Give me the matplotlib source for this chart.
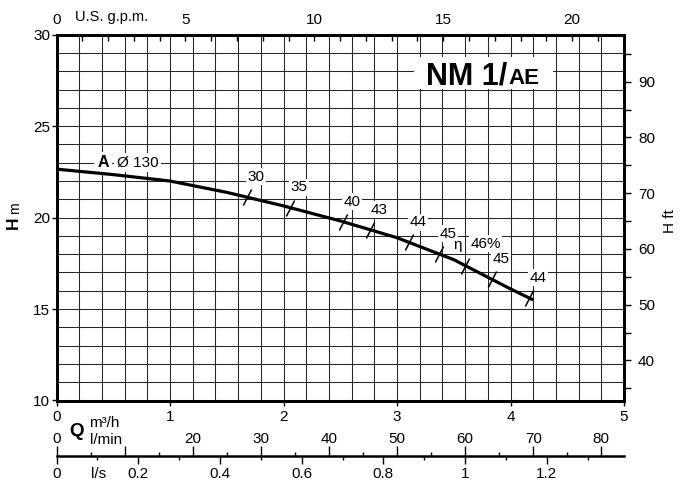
import numpy as np
import matplotlib
matplotlib.use("Agg")
import matplotlib.pyplot as plt
from matplotlib.path import Path
from matplotlib.patches import Rectangle

plt.rcParams['font.family'] = ['Liberation Sans', 'DejaVu Sans']

# pump curve NM 1/AE, impeller A dia 130
q_m3h = [0, 0.5, 1.0, 1.5, 2.0, 2.5, 3.0, 3.5, 4.0, 4.2]
h_m = [22.65, 22.35, 22.0, 21.38, 20.64, 19.82, 18.9, 17.7, 16.1, 15.5]

# efficiency marks along the curve (%)
eff_q = [1.675, 2.056, 2.525, 2.766, 3.103, 3.370, 3.602, 3.834, 4.162]
eff_lbl = ['30', '35', '40', '43', '44', '45', '46%', '45', '44']

# unit scales
GPM = 4.40287          # US gpm per m3/h
FT = 3.28084           # ft per m
LMIN = 1000 / 60       # l/min per m3/h
LS = 1 / 3.6           # l/s per m3/h

gpm_ticks = [0, 5, 10, 15, 20]
ft_ticks = [40, 50, 60, 70, 80, 90]
lmin_ticks = [0, 10, 20, 30, 40, 50, 60, 70, 80]
lmin_lbls = ['0', '', '20', '30', '40', '50', '60', '70', '80']
ls_ticks = [0, 0.2, 0.4, 0.6, 0.8, 1.0, 1.2]
ls_lbls = ['0', '0.2', '0.4', '0.6', '0.8', '1', '1.2']

W, H = 682, 486
FS = 11


def box(l, t, r, b):
    return [l / W, 1 - b / H, (r - l) / W, (b - t) / H]


def fx(x):
    return x / W


def fy(y):
    return 1 - y / H


fig = plt.figure(figsize=(W / 100, H / 100), dpi=100)
ax = fig.add_axes(box(56.5, 34.7, 624, 400.5))
ax.set_xlim(0, 5)
ax.set_ylim(10, 30)
ax.set_xticks(range(6))
ax.set_yticks([10, 15, 20, 25, 30])
ax.set_xticks(np.arange(0, 5.01, 0.2), minor=True)
ax.set_yticks(np.arange(10, 30.1, 1), minor=True)
ax.grid(which='both', color='#262626', lw=0.75)
ax.tick_params(which='minor', length=0)
ax.tick_params(which='major', length=3.5, width=1, labelsize=FS)
ax.tick_params(axis='x', pad=3)
ax.tick_params(axis='y', pad=1)
for s in ax.spines.values():
    s.set_linewidth(1.8)

# top: US gpm
axt = ax.twiny()
axt.set_xlim(0, 5 * GPM)
axt.set_xticks(gpm_ticks)
axt.set_xticks(range(0, 23), minor=True)
axt.tick_params(which='both', direction='in', length=4, width=1, labelsize=FS, pad=5.5)

# right: H ft
axr = ax.twinx()
axr.set_ylim(10 * FT, 30 * FT)
axr.set_yticks(ft_ticks)
axr.set_yticks(range(35, 100, 5), minor=True)
axr.tick_params(which='both', direction='out', length=5, width=1, labelsize=FS, pad=5)
for a in (axt, axr):
    for s in a.spines.values():
        s.set_linewidth(1.8)

# curve
ax.plot(q_m3h, h_m, color='black', lw=2.3, zorder=4, solid_capstyle='butt')

# efficiency marks
slash = Path([(-0.26, -0.5), (0.26, 0.5)], [Path.MOVETO, Path.LINETO])
eff_h = np.interp(eff_q, q_m3h, h_m)
ax.plot(eff_q, eff_h, ls='none', marker=slash, ms=11.5, mew=1.1, mec='black', zorder=4)
wbox = dict(boxstyle='square,pad=0.1', fc='white', ec='none')
for q, h, t in zip(eff_q, eff_h, eff_lbl):
    off = (14.6, 15.7) if t.endswith('%') else (6.5, 14.5)
    ax.annotate(t, (q, h), xytext=off, textcoords='offset points', ha='center',
                va='center', fontsize=FS, bbox=wbox, zorder=3)
    if t.endswith('%'):
        ax.annotate('η', (q, h), xytext=(-5.9, 14.5), textcoords='offset points',
                    ha='center', va='center', fontsize=FS, zorder=3)

# impeller label
ax.text(0.41, 23.0, 'A', fontsize=FS + 0.5, fontweight='bold', ha='center', va='center',
        bbox=dict(boxstyle='square,pad=0.2', fc='white', ec='none'), zorder=3)
ax.text(0.53, 23.0, 'Ø 130', fontsize=FS, ha='left', va='center',
        bbox=dict(boxstyle='square,pad=0.15', fc='white', ec='none'), zorder=3)

# title box
ax.add_patch(Rectangle((fx(414), fy(89)), fx(553) - fx(414), fy(57) - fy(89),
                       transform=fig.transFigure, fc='white', ec='none', zorder=2.5))
fig.text(fx(426), fy(84.5), 'NM 1/', fontsize=22, fontweight='bold', va='baseline', zorder=3)
fig.text(fx(508.5), fy(84.5), 'AE', fontsize=16, fontweight='bold', va='baseline', zorder=3)

# flow scales l/min and l/s
axf = fig.add_axes(box(56.5, 456, 624, 456.02))
axf.set_xlim(0, 5 * LMIN)
axf.set_yticks([])
axf.patch.set_visible(False)
for k, s in axf.spines.items():
    s.set_visible(k == 'bottom')
axf.spines['bottom'].set_linewidth(1.8)

axs = axf.twiny()
axs.set_xlim(0, 5 * LS)
axs.xaxis.tick_bottom()
axs.set_xticks(ls_ticks, ls_lbls)
axs.set_xticks(np.arange(0.1, 1.35, 0.2), minor=True)
axs.tick_params(which='major', direction='out', length=5.5, width=1, labelsize=FS, pad=2.5)
axs.tick_params(which='minor', direction='out', length=3, width=1)
axs.set_yticks([])
for s in axs.spines.values():
    s.set_visible(False)

axf.xaxis.tick_top()
axf.set_xticks(lmin_ticks, lmin_lbls)
axf.set_xticks(range(5, 80, 10), minor=True)
axf.tick_params(which='both', top=True, bottom=False, labeltop=True, labelbottom=False)
axf.tick_params(which='major', direction='out', length=7, width=1, labelsize=FS, pad=0.5)
axf.tick_params(which='minor', direction='out', length=3, width=1)

# axis captions
fig.text(fx(75), fy(17), 'U.S. g.p.m.', fontsize=10.5, va='center')
fig.text(fx(76), fy(431), 'Q', fontsize=13.5, fontweight='bold', ha='center', va='center')
fig.text(fx(89.5), fy(423), 'm³/h', fontsize=FS, va='center')
fig.text(fx(90), fy(439.5), 'l/min', fontsize=FS, va='center')
fig.text(fx(90.5), fy(473.5), 'l/s', fontsize=FS, va='center')
fig.text(fx(13.3), fy(222.5), 'H', fontsize=12.5, fontweight='bold', rotation=90,
         ha='center', va='center')
fig.text(fx(14.7), fy(208.5), 'm', fontsize=10, rotation=90, ha='center', va='center')
fig.text(fx(670), fy(221.5), 'H ft', fontsize=FS, rotation=90, ha='center', va='center')

fig.savefig('out.png', dpi=100)
